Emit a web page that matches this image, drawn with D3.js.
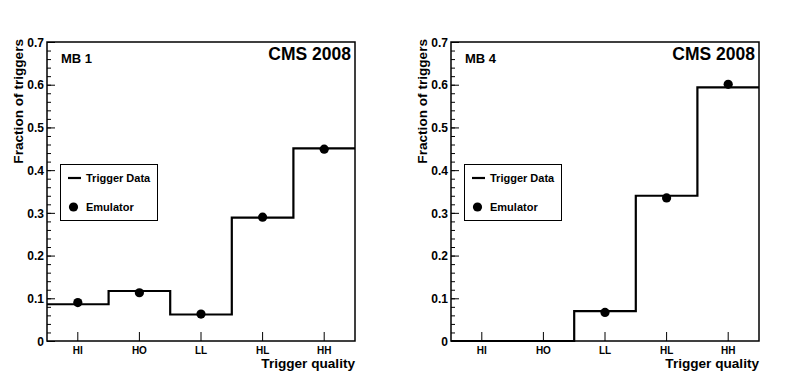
<!DOCTYPE html>
<html lang="en">
<head>
    <meta charset="UTF-8">
    <title>Trigger quality</title>
    <script src="https://cdn.jsdelivr.net/npm/d3@7"></script>
    <style>
        body { margin: 0; background: #ffffff; }
        text { font-family: "Liberation Sans", Arial, sans-serif; font-weight: bold; fill: #000; }
    </style>
</head>
<body>
<div id="container"></div>
<script>
    // data
    const categories = ["HI", "HO", "LL", "HL", "HH"];
    const mb1Data = [0.086, 0.117, 0.062, 0.289, 0.451];
    const mb1Emu = [0.090, 0.113, 0.063, 0.290, 0.449];
    const mb4Data = [0, 0, 0.070, 0.340, 0.594];
    const mb4Emu = [null, null, 0.067, 0.335, 0.601];
    const yMajorTicks = [0, 0.1, 0.2, 0.3, 0.4, 0.5, 0.6, 0.7];
    const yTickLabels = ["0", "0.1", "0.2", "0.3", "0.4", "0.5", "0.6", "0.7"];

    let svg = d3.select("#container")
        .append("svg")
        .attr("width", 804)
        .attr("height", 382)
        .style("background-color", "#ffffff");

    let frameLeft = 47, frameRight = 355, frameTop = 42, frameBottom = 341;

    function drawPanel(offset, station, dataVals, emuVals) {
        let g = svg.append("g").attr("transform", "translate(" + offset + ",0)");

        let x = d3.scaleBand().domain(categories).range([frameLeft, frameRight]).padding(0);
        let y = d3.scaleLinear().domain([0, 0.7]).range([frameBottom, frameTop]);

        // minor y ticks
        g.append("g")
            .attr("transform", "translate(" + frameLeft + ",0)")
            .call(d3.axisLeft(y).tickValues(d3.range(0, 0.7001, 0.02)).tickSize(-4).tickFormat(""))
            .call(a => a.select(".domain").remove())
            .selectAll("line").attr("stroke-width", 1);

        // major y ticks
        g.append("g")
            .attr("transform", "translate(" + frameLeft + ",0)")
            .call(d3.axisLeft(y).tickValues(yMajorTicks).tickSize(-8).tickPadding(3)
                .tickFormat((d, i) => yTickLabels[i]))
            .call(a => a.select(".domain").remove())
            .call(a => a.selectAll("text").style("font-size", "12px").attr("dy", "0.35em"))
            .selectAll("line").attr("stroke-width", 1);

        // x ticks
        g.append("g")
            .attr("transform", "translate(0," + frameBottom + ")")
            .call(d3.axisBottom(x).tickSize(-9).tickPadding(6))
            .call(a => a.select(".domain").remove())
            .call(a => a.selectAll("text").style("font-size", "10px"))
            .selectAll("line").attr("stroke-width", 1);

        // frame
        g.append("rect")
            .attr("x", frameLeft).attr("y", frameTop)
            .attr("width", frameRight - frameLeft).attr("height", frameBottom - frameTop)
            .attr("fill", "none").attr("stroke", "#000").attr("stroke-width", 1.5);

        // step histogram
        let pts = categories.map((c, i) => [x(c), dataVals[i]]);
        pts.push([frameRight, dataVals[dataVals.length - 1]]);
        let step = d3.line()
            .x(d => d[0])
            .y(d => y(d[1]))
            .curve(d3.curveStepAfter);
        g.append("path")
            .attr("d", step(pts))
            .attr("fill", "none")
            .attr("stroke", "#000")
            .attr("stroke-width", 2.2);

        // emulator points
        g.selectAll(".emu")
            .data(categories.map((c, i) => ({c: c, v: emuVals[i]})).filter(d => d.v !== null))
            .enter().append("circle")
            .attr("class", "emu")
            .attr("cx", d => x(d.c) + x.bandwidth() / 2)
            .attr("cy", d => y(d.v))
            .attr("r", 4.6)
            .attr("fill", "#000");

        // legend
        g.append("rect")
            .attr("x", 60.5).attr("y", 164.5).attr("width", 97).attr("height", 56)
            .attr("fill", "#fff").attr("stroke", "#000").attr("stroke-width", 1);
        g.append("line")
            .attr("x1", 68).attr("x2", 81).attr("y1", 178).attr("y2", 178)
            .attr("stroke", "#000").attr("stroke-width", 2.2);
        g.append("text").attr("x", 86).attr("y", 182).style("font-size", "11px").text("Trigger Data");
        g.append("circle").attr("cx", 73.5).attr("cy", 207).attr("r", 4.6).attr("fill", "#000");
        g.append("text").attr("x", 86).attr("y", 211).style("font-size", "11px").text("Emulator");

        // labels
        g.append("text").attr("x", 61).attr("y", 63).style("font-size", "13px").text(station);
        g.append("text").attr("x", 351).attr("y", 60).attr("text-anchor", "end")
            .style("font-size", "17.5px").text("CMS 2008");
        g.append("text").attr("x", frameRight).attr("y", 368).attr("text-anchor", "end")
            .style("font-size", "13.6px").text("Trigger quality");
        g.append("text")
            .attr("transform", "translate(23,39) rotate(-90)")
            .attr("text-anchor", "end")
            .style("font-size", "13.6px")
            .text("Fraction of triggers");
    }

    drawPanel(0, "MB 1", mb1Data, mb1Emu);
    drawPanel(404, "MB 4", mb4Data, mb4Emu);
</script>
</body>
</html>
